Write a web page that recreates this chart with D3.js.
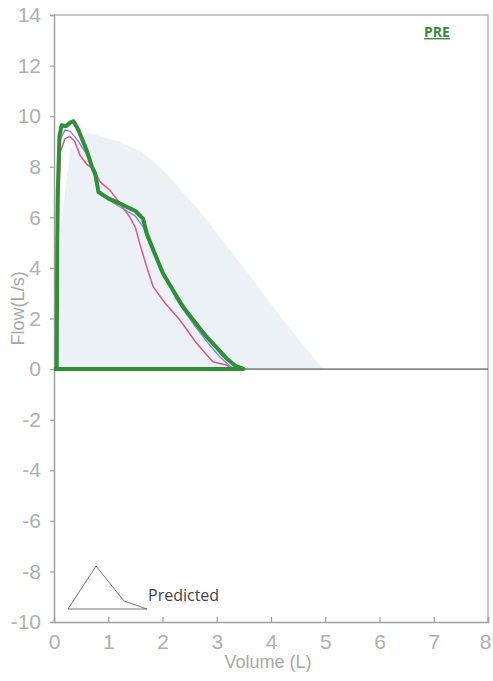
<!DOCTYPE html>
<html>
<head>
<meta charset="utf-8">
<script src="https://cdn.jsdelivr.net/npm/d3@7"></script>
<style>
body { margin:0; background:#fff; }
svg text { font-family: "Liberation Sans", Arial, sans-serif; }
</style>
</head>
<body>
<div id="vis"></div>
<script>
// flow-volume loop, values (volume L, flow L/s)
var predicted = [[0.05,0],[0.12,5.5],[0.3,8.7],[0.6,9.35],[1.2,9.0],[1.6,8.6],[2.0,7.9],[2.7,6.2],[3.5,4.0],[4.2,2.0],[4.95,0]]

var greenLoop = [[0,0],[0.05,0],[0.06,5],[0.07,7],[0.1,9.2],[0.14,9.64],[0.22,9.6],[0.3,9.75],[0.36,9.8],[0.45,9.45],[0.6,8.66],[0.7,8.0],[0.76,7.73],[0.82,7.0],
    [1.0,6.75],[1.28,6.48],[1.5,6.25],[1.64,5.95],[1.71,5.36],[1.85,4.6],[2.01,3.78],[2.2,3.1],[2.38,2.46],[2.6,1.85],[2.81,1.28],[3.0,0.85],[3.18,0.42],[3.35,0.12],[3.49,0.02],[3.49,0],[0,0]]
var blueLoop = [[0.04,0],[0.06,6],[0.12,9.1],[0.2,9.45],[0.3,9.4],[0.45,9.0],[0.6,8.5],[0.75,7.6],[0.85,6.9],[1.0,6.7],[1.3,6.3],[1.5,6.05],[1.65,5.6],[1.75,5.0],
    [1.9,4.3],[2.05,3.6],[2.3,2.6],[2.6,1.7],[2.85,1.0],[3.05,0.5],[3.2,0.2],[3.3,0.03]]
var pinkLoop = [[0.03,0],[0.04,2],[0.05,5],[0.12,8.6],[0.2,9.1],[0.29,9.2],[0.38,9.0],[0.48,8.46],[0.6,8.1],[0.72,7.93],[0.85,7.4],[1.03,7.07],[1.2,6.6],[1.4,6.0],
    [1.5,5.6],[1.58,4.97],[1.7,4.1],[1.83,3.25],[2.05,2.6],[2.32,1.94],[2.6,1.1],[2.8,0.6],[2.93,0.29],[3.18,0.16],[3.28,0.02]]

var xTicks = [0,1,2,3,4,5,6,7,8]
var yTicks = [14,12,10,8,6,4,2,0,-2,-4,-6,-8,-10]

var width = 493, height = 681
var margin = {left:54, right:5, top:15, bottom:59}

var svg = d3.select("#vis").append("svg").attr("width",width).attr("height",height)

var x = d3.scaleLinear().domain([0,8]).range([margin.left, width-margin.right])
var y = d3.scaleLinear().domain([-10,14]).range([height-margin.bottom, margin.top])

var line = d3.line().x(function(d){ return x(d[0]) }).y(function(d){ return y(d[1]) })

//predicted area
svg.append("path").datum(predicted)
    .attr("d", line)
    .attr("fill","#ebf1f4")
    .attr("stroke","none")

//frame
svg.append("path")
    .attr("d","M"+x(0)+","+y(14)+"H"+x(8)+"V"+y(-10))
    .attr("fill","none").attr("stroke","#b8b8b8").attr("stroke-width",1.5)

//axes
var yAxis = svg.append("g").attr("transform","translate("+x(0)+",0)")
    .call(d3.axisLeft(y).tickValues(yTicks).tickSize(4).tickPadding(9))
var xAxis = svg.append("g").attr("transform","translate(0,"+y(-10)+")")
    .call(d3.axisBottom(x).tickValues(xTicks).tickSize(-5).tickPadding(12))
svg.selectAll(".domain").attr("stroke","#a0a0a0").attr("stroke-width",1.5)
svg.selectAll(".tick line").attr("stroke","#a0a0a0").attr("stroke-width",1.2)
svg.selectAll(".tick text").attr("fill","#b0b0b0").style("font-size","21px")
    .text(function(d){ return d<0 ? "-"+Math.abs(d) : d })
xAxis.selectAll(".tick text").filter(function(d){ return d==8 }).attr("dx",-3)

//zero line
svg.append("line")
    .attr("x1",x(0)).attr("x2",x(8)).attr("y1",y(0)).attr("y2",y(0))
    .attr("stroke","#333").attr("stroke-width",1)

//curves
svg.append("path").datum(pinkLoop).attr("d",line)
    .attr("fill","none").attr("stroke","#e0558e").attr("stroke-width",1.5)
svg.append("path").datum(blueLoop).attr("d",line)
    .attr("fill","none").attr("stroke","#7f86d8").attr("stroke-width",1.3)
svg.append("path").datum(greenLoop).attr("d",line)
    .attr("fill","none").attr("stroke","#2f8f35").attr("stroke-width",4)
    .attr("stroke-linejoin","round")

//axis titles
svg.append("text").attr("x",x(4)-3).attr("y",668)
    .attr("text-anchor","middle").attr("fill","#a8a8a8").style("font-size","18px")
    .text("Volume (L)")
svg.append("text").attr("transform","translate(24,"+y(2.4)+") rotate(-90)")
    .attr("text-anchor","middle").attr("fill","#a8a8a8").style("font-size","18px")
    .text("Flow(L/s)")

//PRE
svg.append("text").attr("x",437).attr("y",37)
    .attr("text-anchor","middle").attr("fill","#3a8a3a")
    .style("font-size","14px").style("font-weight","bold")
    .style("font-family","'Open Sans', sans-serif")
    .style("text-decoration","underline")
    .text("PRE")

//legend
var lg = svg.append("g").attr("transform","translate(68,609)")
lg.append("path")
    .attr("d","M0,0L28,-43L56,-8L79,0Z")
    .attr("fill","none").attr("stroke","#555").attr("stroke-width",0.8)
lg.append("text").attr("x",80).attr("y",-8)
    .attr("fill","#444").style("font-size","16px")
    .style("font-family","'Open Sans', sans-serif")
    .text("Predicted")
</script>
</body>
</html>
